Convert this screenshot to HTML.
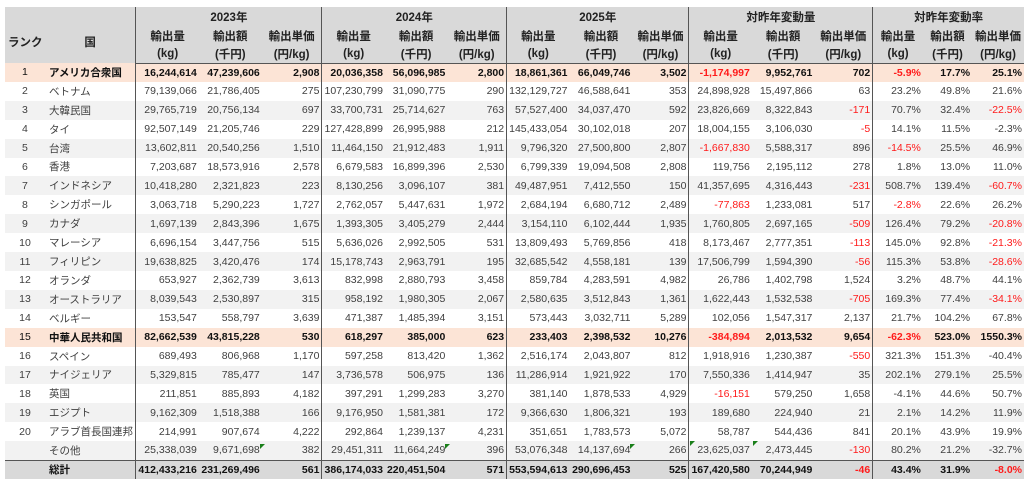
<!DOCTYPE html>
<html><head><meta charset="utf-8">
<style>
body{margin:0;background:#fff;width:1024px;height:483px;overflow:hidden;font-family:"Liberation Sans","Noto Sans CJK JP",sans-serif;}
table{position:absolute;left:5px;top:7px;border-collapse:collapse;table-layout:fixed;font-size:10.5px;color:#404040;}
td,th{padding:0 2px;white-space:nowrap;overflow:visible;box-sizing:border-box;}
thead th{background:#d9d9d9;color:#222;font-weight:bold;text-align:center;font-size:11.5px;}
tbody td{height:18.92px;text-align:right;}
tbody td.r{text-align:center;}
tbody td.c{text-align:left;padding-left:4px;}
tr.g td{background:#f2f2f2}
tr.h td{background:#fce4d6;color:#111;font-weight:bold}
tr.h td.r{font-weight:normal}
tr.t td{background:#d9d9d9;color:#111;font-weight:bold;border-top:1.5px solid #555}
thead tr:last-child th{border-bottom:1.5px solid #555}
.b{border-left:1.5px solid #555}
.n{color:#ff1a1a!important}
.tri{position:relative}
.tri:after{content:"";position:absolute;right:-5px;top:0;border-top:5px solid #1a7f1a;border-right:5px solid transparent}
.tl:before{content:"";position:absolute;left:1px;top:0;border-top:5px solid #1a7f1a;border-right:5px solid transparent}
</style></head><body>
<table>
<colgroup><col style="width:40px"><col style="width:91px">
<col style="width:62px"><col style="width:63px"><col style="width:61px">
<col style="width:63px"><col style="width:58px"><col style="width:60px">
<col style="width:62px"><col style="width:63px"><col style="width:57px">
<col style="width:60px"><col style="width:63px"><col style="width:59px">
<col style="width:51px"><col style="width:50px"><col style="width:52px"></colgroup>
<thead>
<tr style="height:20px"><th rowspan="3" style="text-align:left;padding-left:3px;padding-top:14px">ランク</th><th rowspan="3" style="padding-top:14px">国</th>
<th colspan="3" class="b">2023年</th><th colspan="3" class="b">2024年</th><th colspan="3" class="b">2025年</th><th colspan="3" class="b">対昨年変動量</th><th colspan="3" class="b">対昨年変動率</th></tr>
<tr style="height:18px"><th class="b">輸出量</th><th>輸出額</th><th>輸出単価</th><th class="b">輸出量</th><th>輸出額</th><th>輸出単価</th><th class="b">輸出量</th><th>輸出額</th><th>輸出単価</th><th class="b">輸出量</th><th>輸出額</th><th>輸出単価</th><th class="b">輸出量</th><th>輸出額</th><th>輸出単価</th></tr>
<tr style="height:18px"><th class="b">(kg)</th><th>(千円)</th><th>(円/kg)</th><th class="b">(kg)</th><th>(千円)</th><th>(円/kg)</th><th class="b">(kg)</th><th>(千円)</th><th>(円/kg)</th><th class="b">(kg)</th><th>(千円)</th><th>(円/kg)</th><th class="b">(kg)</th><th>(千円)</th><th>(円/kg)</th></tr>
</thead>
<tbody>
<tr class="h"><td class="r">1</td><td class="c">アメリカ合衆国</td><td class="b">16,244,614</td><td>47,239,606</td><td>2,908</td><td class="b">20,036,358</td><td>56,096,985</td><td>2,800</td><td class="b">18,861,361</td><td>66,049,746</td><td>3,502</td><td class="b n">-1,174,997</td><td>9,952,761</td><td>702</td><td class="b n">-5.9%</td><td>17.7%</td><td>25.1%</td></tr>
<tr><td class="r">2</td><td class="c">ベトナム</td><td class="b">79,139,066</td><td>21,786,405</td><td>275</td><td class="b">107,230,799</td><td>31,090,775</td><td>290</td><td class="b">132,129,727</td><td>46,588,641</td><td>353</td><td class="b">24,898,928</td><td>15,497,866</td><td>63</td><td class="b">23.2%</td><td>49.8%</td><td>21.6%</td></tr>
<tr class="g"><td class="r">3</td><td class="c">大韓民国</td><td class="b">29,765,719</td><td>20,756,134</td><td>697</td><td class="b">33,700,731</td><td>25,714,627</td><td>763</td><td class="b">57,527,400</td><td>34,037,470</td><td>592</td><td class="b">23,826,669</td><td>8,322,843</td><td class="n">-171</td><td class="b">70.7%</td><td>32.4%</td><td class="n">-22.5%</td></tr>
<tr><td class="r">4</td><td class="c">タイ</td><td class="b">92,507,149</td><td>21,205,746</td><td>229</td><td class="b">127,428,899</td><td>26,995,988</td><td>212</td><td class="b">145,433,054</td><td>30,102,018</td><td>207</td><td class="b">18,004,155</td><td>3,106,030</td><td class="n">-5</td><td class="b">14.1%</td><td>11.5%</td><td>-2.3%</td></tr>
<tr class="g"><td class="r">5</td><td class="c">台湾</td><td class="b">13,602,811</td><td>20,540,256</td><td>1,510</td><td class="b">11,464,150</td><td>21,912,483</td><td>1,911</td><td class="b">9,796,320</td><td>27,500,800</td><td>2,807</td><td class="b n">-1,667,830</td><td>5,588,317</td><td>896</td><td class="b n">-14.5%</td><td>25.5%</td><td>46.9%</td></tr>
<tr><td class="r">6</td><td class="c">香港</td><td class="b">7,203,687</td><td>18,573,916</td><td>2,578</td><td class="b">6,679,583</td><td>16,899,396</td><td>2,530</td><td class="b">6,799,339</td><td>19,094,508</td><td>2,808</td><td class="b">119,756</td><td>2,195,112</td><td>278</td><td class="b">1.8%</td><td>13.0%</td><td>11.0%</td></tr>
<tr class="g"><td class="r">7</td><td class="c">インドネシア</td><td class="b">10,418,280</td><td>2,321,823</td><td>223</td><td class="b">8,130,256</td><td>3,096,107</td><td>381</td><td class="b">49,487,951</td><td>7,412,550</td><td>150</td><td class="b">41,357,695</td><td>4,316,443</td><td class="n">-231</td><td class="b">508.7%</td><td>139.4%</td><td class="n">-60.7%</td></tr>
<tr><td class="r">8</td><td class="c">シンガポール</td><td class="b">3,063,718</td><td>5,290,223</td><td>1,727</td><td class="b">2,762,057</td><td>5,447,631</td><td>1,972</td><td class="b">2,684,194</td><td>6,680,712</td><td>2,489</td><td class="b n">-77,863</td><td>1,233,081</td><td>517</td><td class="b n">-2.8%</td><td>22.6%</td><td>26.2%</td></tr>
<tr class="g"><td class="r">9</td><td class="c">カナダ</td><td class="b">1,697,139</td><td>2,843,396</td><td>1,675</td><td class="b">1,393,305</td><td>3,405,279</td><td>2,444</td><td class="b">3,154,110</td><td>6,102,444</td><td>1,935</td><td class="b">1,760,805</td><td>2,697,165</td><td class="n">-509</td><td class="b">126.4%</td><td>79.2%</td><td class="n">-20.8%</td></tr>
<tr><td class="r">10</td><td class="c">マレーシア</td><td class="b">6,696,154</td><td>3,447,756</td><td>515</td><td class="b">5,636,026</td><td>2,992,505</td><td>531</td><td class="b">13,809,493</td><td>5,769,856</td><td>418</td><td class="b">8,173,467</td><td>2,777,351</td><td class="n">-113</td><td class="b">145.0%</td><td>92.8%</td><td class="n">-21.3%</td></tr>
<tr class="g"><td class="r">11</td><td class="c">フィリピン</td><td class="b">19,638,825</td><td>3,420,476</td><td>174</td><td class="b">15,178,743</td><td>2,963,791</td><td>195</td><td class="b">32,685,542</td><td>4,558,181</td><td>139</td><td class="b">17,506,799</td><td>1,594,390</td><td class="n">-56</td><td class="b">115.3%</td><td>53.8%</td><td class="n">-28.6%</td></tr>
<tr><td class="r">12</td><td class="c">オランダ</td><td class="b">653,927</td><td>2,362,739</td><td>3,613</td><td class="b">832,998</td><td>2,880,793</td><td>3,458</td><td class="b">859,784</td><td>4,283,591</td><td>4,982</td><td class="b">26,786</td><td>1,402,798</td><td>1,524</td><td class="b">3.2%</td><td>48.7%</td><td>44.1%</td></tr>
<tr class="g"><td class="r">13</td><td class="c">オーストラリア</td><td class="b">8,039,543</td><td>2,530,897</td><td>315</td><td class="b">958,192</td><td>1,980,305</td><td>2,067</td><td class="b">2,580,635</td><td>3,512,843</td><td>1,361</td><td class="b">1,622,443</td><td>1,532,538</td><td class="n">-705</td><td class="b">169.3%</td><td>77.4%</td><td class="n">-34.1%</td></tr>
<tr><td class="r">14</td><td class="c">ベルギー</td><td class="b">153,547</td><td>558,797</td><td>3,639</td><td class="b">471,387</td><td>1,485,394</td><td>3,151</td><td class="b">573,443</td><td>3,032,711</td><td>5,289</td><td class="b">102,056</td><td>1,547,317</td><td>2,137</td><td class="b">21.7%</td><td>104.2%</td><td>67.8%</td></tr>
<tr class="h"><td class="r">15</td><td class="c">中華人民共和国</td><td class="b">82,662,539</td><td>43,815,228</td><td>530</td><td class="b">618,297</td><td>385,000</td><td>623</td><td class="b">233,403</td><td>2,398,532</td><td>10,276</td><td class="b n">-384,894</td><td>2,013,532</td><td>9,654</td><td class="b n">-62.3%</td><td>523.0%</td><td>1550.3%</td></tr>
<tr><td class="r">16</td><td class="c">スペイン</td><td class="b">689,493</td><td>806,968</td><td>1,170</td><td class="b">597,258</td><td>813,420</td><td>1,362</td><td class="b">2,516,174</td><td>2,043,807</td><td>812</td><td class="b">1,918,916</td><td>1,230,387</td><td class="n">-550</td><td class="b">321.3%</td><td>151.3%</td><td>-40.4%</td></tr>
<tr class="g"><td class="r">17</td><td class="c">ナイジェリア</td><td class="b">5,329,815</td><td>785,477</td><td>147</td><td class="b">3,736,578</td><td>506,975</td><td>136</td><td class="b">11,286,914</td><td>1,921,922</td><td>170</td><td class="b">7,550,336</td><td>1,414,947</td><td>35</td><td class="b">202.1%</td><td>279.1%</td><td>25.5%</td></tr>
<tr><td class="r">18</td><td class="c">英国</td><td class="b">211,851</td><td>885,893</td><td>4,182</td><td class="b">397,291</td><td>1,299,283</td><td>3,270</td><td class="b">381,140</td><td>1,878,533</td><td>4,929</td><td class="b n">-16,151</td><td>579,250</td><td>1,658</td><td class="b">-4.1%</td><td>44.6%</td><td>50.7%</td></tr>
<tr class="g"><td class="r">19</td><td class="c">エジプト</td><td class="b">9,162,309</td><td>1,518,388</td><td>166</td><td class="b">9,176,950</td><td>1,581,381</td><td>172</td><td class="b">9,366,630</td><td>1,806,321</td><td>193</td><td class="b">189,680</td><td>224,940</td><td>21</td><td class="b">2.1%</td><td>14.2%</td><td>11.9%</td></tr>
<tr><td class="r">20</td><td class="c">アラブ首長国連邦</td><td class="b">214,991</td><td>907,674</td><td>4,222</td><td class="b">292,864</td><td>1,239,137</td><td>4,231</td><td class="b">351,651</td><td>1,783,573</td><td>5,072</td><td class="b">58,787</td><td>544,436</td><td>841</td><td class="b">20.1%</td><td>43.9%</td><td>19.9%</td></tr>
<tr class="g"><td class="r"></td><td class="c">その他</td><td class="b">25,338,039</td><td><span class="tri">9,671,698</span></td><td>382</td><td class="b">29,451,311</td><td><span class="tri">11,664,249</span></td><td>396</td><td class="b">53,076,348</td><td><span class="tri">14,137,694</span></td><td>266</td><td class="b tri tl">23,625,037</td><td style="position:relative" class="tl">2,473,445</td><td class="n">-130</td><td class="b">80.2%</td><td>21.2%</td><td>-32.7%</td></tr>
<tr class="t"><td class="r"></td><td class="c">総計</td><td class="b">412,433,216</td><td>231,269,496</td><td>561</td><td class="b">386,174,033</td><td>220,451,504</td><td>571</td><td class="b">553,594,613</td><td>290,696,453</td><td>525</td><td class="b">167,420,580</td><td>70,244,949</td><td class="n">-46</td><td class="b">43.4%</td><td>31.9%</td><td class="n">-8.0%</td></tr>
</tbody></table>
</body></html>
